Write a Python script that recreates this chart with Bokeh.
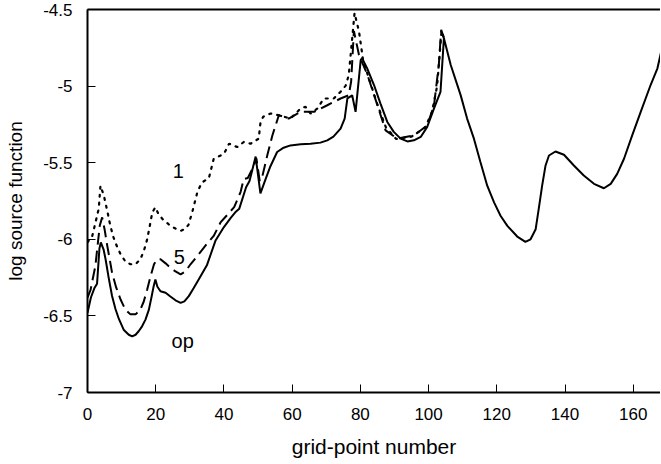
from bokeh.plotting import figure
from bokeh.models import Range1d, FixedTicker, LinearAxis
from bokeh.embed import file_html
from bokeh.resources import INLINE
from bokeh.core.properties import value

# ---- data ----
x_op = [0, 1.0, 2.0, 2.8, 3.5, 3.9, 4.7, 5.3, 6.2, 7.2, 8.2, 9.2, 10.6, 12.1, 13.1, 14.1, 15.0,
        16.0, 17.0, 18.0, 18.8, 19.4, 19.9, 20.5, 21.4, 22.9, 24.3, 25.8, 27.3, 28.4, 29.7, 31.1,
        32.6, 35.0, 37.5, 40.0, 42.0, 43.5, 44.5, 46.5, 47.5, 48.3, 49.3, 50.7, 52.0, 53.5, 55.6,
        57.5, 59.5, 62.5, 65.4, 68.3, 70.3, 72.1, 74.2, 75.4, 76.2, 77.6, 78.6, 80.1, 80.5, 82.0,
        84.0, 85.9, 87.9, 89.8, 91.8, 93.8, 95.7, 97.7, 99.6, 101.6, 103.5, 104.5, 106.5, 109.4,
        111.3, 113.3, 115.2, 117.2, 119.2, 121.1, 123.1, 126.0, 128.4, 129.9, 131.4, 132.3, 133.3,
        134.3, 135.3, 137.2, 139.7, 142.6, 145.5, 148.5, 151.4, 153.4, 155.3, 157.3, 159.7, 162.2,
        165.1, 167.1, 168.3]
y_op = [-6.48, -6.38, -6.32, -6.29, -6.06, -6.02, -6.065, -6.13, -6.25, -6.37, -6.455, -6.52,
        -6.59, -6.623, -6.634, -6.623, -6.60, -6.568, -6.524, -6.459, -6.373, -6.306, -6.262,
        -6.31, -6.339, -6.349, -6.373, -6.398, -6.415, -6.405, -6.371, -6.32, -6.262, -6.17,
        -6.01, -5.92, -5.86, -5.82, -5.80, -5.66, -5.62, -5.55, -5.46, -5.70, -5.62, -5.53, -5.43,
        -5.402, -5.387, -5.379, -5.376, -5.369, -5.354, -5.33, -5.278, -5.212, -5.08, -5.06,
        -5.168, -4.83, -4.818, -4.884, -4.993, -5.114, -5.234, -5.299, -5.343, -5.361, -5.354,
        -5.332, -5.266, -5.146, -5.037, -4.687, -4.862, -5.059, -5.212, -5.343, -5.496, -5.650,
        -5.759, -5.846, -5.912, -5.982, -6.017, -6.0, -5.934, -5.802, -5.650, -5.518, -5.453,
        -5.427, -5.448, -5.518, -5.584, -5.638, -5.667, -5.638, -5.573, -5.474, -5.322, -5.168,
        -4.993, -4.884, -4.764]

x_5 = [0, 0.9, 2.3, 3.6, 4.3, 5.0, 5.8, 6.5, 7.2, 8.4, 9.7, 11.1, 12.6, 14.1, 15.5, 16.5, 17.5,
       18.5, 19.5, 20.4, 21.4, 22.9, 24.3, 25.8, 27.3, 28.7, 30.2, 32.2, 35.0, 37.0, 39.0, 41.0,
       43.0, 44.9, 45.8, 47.0, 48.8, 49.5, 50.5, 51.2, 52.7, 54.2, 56.1, 59.0, 62.5, 66.4, 70.3,
       74.2, 76.6, 77.3, 78.1, 79.6, 82.1, 85.0, 87.4, 90.8, 95.7, 99.6, 101.6, 103.0, 103.7, 104.5]
y_5 = [-6.38, -6.33, -6.175, -5.91, -5.857, -5.934, -6.043, -6.13, -6.218, -6.314, -6.393,
       -6.459, -6.49, -6.49, -6.459, -6.406, -6.327, -6.24, -6.163, -6.13, -6.13, -6.157, -6.185,
       -6.21, -6.229, -6.21, -6.163, -6.109, -6.03, -5.978, -5.89, -5.84, -5.79, -5.69, -5.606,
       -5.60, -5.518, -5.47, -5.62, -5.595, -5.453, -5.322, -5.19, -5.212, -5.168, -5.168, -5.125,
       -5.081, -5.06, -4.97, -4.64, -4.797, -4.928, -5.125, -5.289, -5.343, -5.322, -5.256,
       -5.125, -4.862, -4.633, -4.687]

x_1 = [0, 1.4, 3.3, 3.8, 4.8, 5.8, 6.7, 7.6, 8.5, 9.7, 11.1, 12.6, 14.1, 15.5, 16.5, 17.5, 18.2,
       19.0, 19.9, 20.8, 22.0, 23.2, 24.3, 25.8, 27.3, 28.4, 29.6, 30.8, 32.2, 33.5, 35.6, 37.0,
       40.0, 41.5, 43.9, 45.8, 47.8, 50.2, 50.7, 51.5, 53.7, 56.1, 59.5, 62.5, 63.9, 65.4, 67.4,
       69.3, 72.2, 74.2, 75.7, 76.6, 78.3, 79.6, 80.8, 82.5, 85.0, 87.5, 90.5, 95.0, 99.0, 101.0,
       102.5, 103.3, 103.8, 104.5]
y_1 = [-6.02, -5.978, -5.80, -5.65, -5.715, -5.815, -5.912, -5.986, -6.039, -6.098, -6.144,
       -6.163, -6.163, -6.13, -6.078, -6.0, -5.92, -5.824, -5.791, -5.835, -5.868, -5.89, -5.912,
       -5.93, -5.945, -5.934, -5.907, -5.815, -5.693, -5.63, -5.60, -5.475, -5.442, -5.376,
       -5.398, -5.365, -5.376, -5.343, -5.24, -5.20, -5.179, -5.19, -5.212, -5.146, -5.135,
       -5.179, -5.146, -5.081, -5.081, -5.037, -4.997, -4.928, -4.523, -4.643, -4.83, -4.95,
       -5.12, -5.27, -5.345, -5.33, -5.27, -5.17, -5.00, -4.78, -4.64, -4.687]

curve_labels = ["1", "5", "op"]
label_x = [26.6, 26.9, 27.9]
label_y = [-5.551, -6.114, -6.664]

x_ticks = [0, 20, 40, 60, 80, 100, 120, 140, 160]
y_ticks = [-7, -6.5, -6, -5.5, -5, -4.5]
y_tick_labels = ["-7", "-6.5", "-6", "-5.5", "-5", "-4.5"]

FONT = "Liberation Sans"

p = figure(width=660, height=464, output_backend="svg", toolbar_location=None,
           x_range=Range1d(0, 168.0), y_range=Range1d(-7, -4.5),
           min_border_left=87, min_border_right=0, min_border_top=9, min_border_bottom=72,
           x_axis_label="grid-point number", y_axis_label="log source function")
p.outline_line_color = None
p.xgrid.visible = False
p.ygrid.visible = False
p.background_fill_color = "white"
p.border_fill_color = "white"

p.line(x_op, y_op, line_color="black", line_width=2)
p.line(x_5, y_5, line_color="black", line_width=2, line_dash="12 6")
p.line(x_1, y_1, line_color="black", line_width=2.2, line_dash="2 6", line_cap="round")

p.text(x=label_x, y=label_y, text=curve_labels, text_font=value(FONT), text_font_size="20px",
       text_align="center", text_baseline="middle", text_color="black")

for ax in (p.xaxis[0], p.yaxis[0]):
    ax.axis_line_width = 2
    ax.axis_line_color = "black"
    ax.major_tick_in = 8
    ax.major_tick_out = 0
    ax.major_tick_line_width = 1
    ax.major_tick_line_color = "black"
    ax.minor_tick_line_color = None
    ax.major_label_text_font = FONT
    ax.major_label_text_font_size = "17px"
    ax.major_label_text_color = "black"
    ax.axis_label_text_font = FONT
    ax.axis_label_text_font_style = "normal"
    ax.axis_label_text_color = "black"

p.xaxis[0].ticker = FixedTicker(ticks=x_ticks)
p.yaxis[0].ticker = FixedTicker(ticks=y_ticks)
p.yaxis[0].major_label_overrides = {t: s for t, s in zip(y_ticks, y_tick_labels)}
p.xaxis[0].major_label_standoff = 15
p.yaxis[0].major_label_standoff = 15
p.xaxis[0].axis_label_standoff = 12
p.yaxis[0].axis_label_standoff = 14
p.xaxis[0].axis_label_text_font_size = "21px"
p.yaxis[0].axis_label_text_font_size = "19px"

top = LinearAxis(ticker=FixedTicker(ticks=[]), axis_line_width=2, axis_line_color="black",
                 major_tick_line_color=None, minor_tick_line_color=None,
                 major_label_text_font_size="0px", major_label_standoff=0,
                 major_tick_in=0, major_tick_out=0)
p.add_layout(top, "above")

open("out.html", "w").write(file_html(p, INLINE))
